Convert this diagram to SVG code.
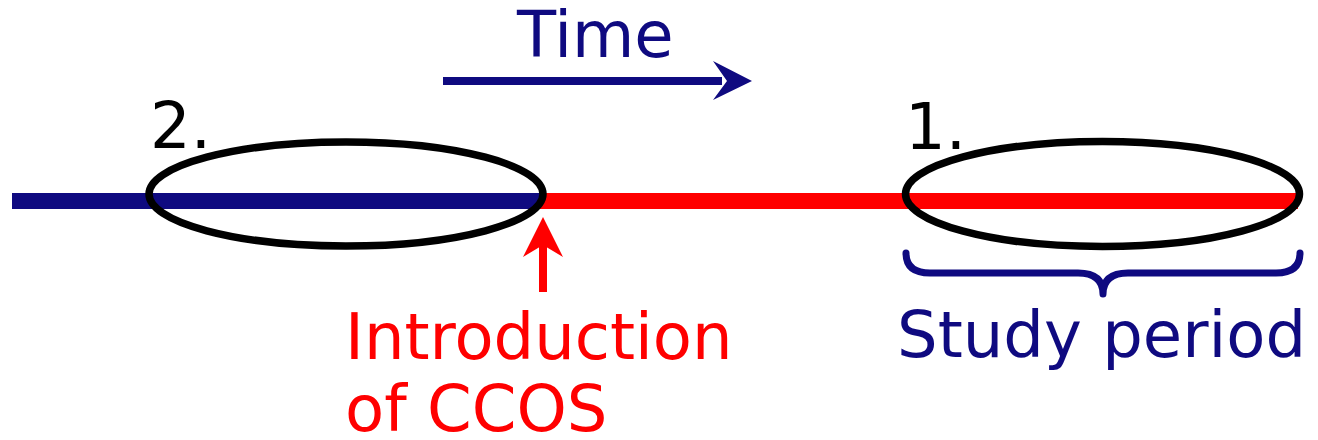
<svg xmlns="http://www.w3.org/2000/svg" width="1318" height="440" viewBox="0 0 1318 440">
  <style>
    .lbl { font-family: "DejaVu Sans", Verdana, sans-serif; font-size: 64px; }
    .navy { fill: #0f0a80; }
    .red { fill: #ff0000; }
    .black { fill: #000000; }
    .ring { fill: none; stroke: #000000; stroke-width: 7.5; }
  </style>

  <!-- timeline: before (navy) and after (red) the introduction -->
  <g id="timeline">
    <line x1="12" y1="201" x2="541" y2="201" stroke="#0f0a80" stroke-width="16"/>
    <line x1="540" y1="201" x2="1298" y2="201" stroke="#ff0000" stroke-width="16"/>
  </g>

  <g id="connectors">
    <!-- time direction arrow -->
    <g id="time-arrow">
      <line x1="443" y1="81" x2="722" y2="81" stroke="#0f0a80" stroke-width="8"/>
      <path d="M752,81 L713,61 L727,81 L713,100 Z" fill="#0f0a80"/>
    </g>
    <!-- introduction marker arrow -->
    <g id="intro-arrow">
      <line x1="543" y1="292" x2="543" y2="240" stroke="#ff0000" stroke-width="8"/>
      <path d="M543,217 L563,257 L543,245 L523,257 Z" fill="#ff0000"/>
    </g>
  </g>

  <g id="time-label">
    <text class="lbl navy" x="517" y="57">Time</text>
  </g>

  <g id="period-2">
    <ellipse class="ring" cx="346" cy="194" rx="197" ry="52"/>
    <text class="lbl black" x="150" y="148">2.</text>
  </g>

  <g id="period-1">
    <ellipse class="ring" cx="1102.5" cy="194" rx="197" ry="52.5"/>
    <text class="lbl black" x="905" y="149">1.</text>
  </g>

  <g id="study-period">
    <path d="M906,253 Q906,273 930,273 L1078,273 Q1103,273 1103,294 Q1103,273 1128,273 L1276,273 Q1300,273 1300,253"
          fill="none" stroke="#0f0a80" stroke-width="7" stroke-linecap="round" stroke-linejoin="round"/>
    <text class="lbl navy" x="897" y="357">Study period</text>
  </g>

  <g id="introduction">
    <text class="lbl red" x="345" y="359">Introduction</text>
    <text class="lbl red" x="345" y="431">of CCOS</text>
  </g>
</svg>
